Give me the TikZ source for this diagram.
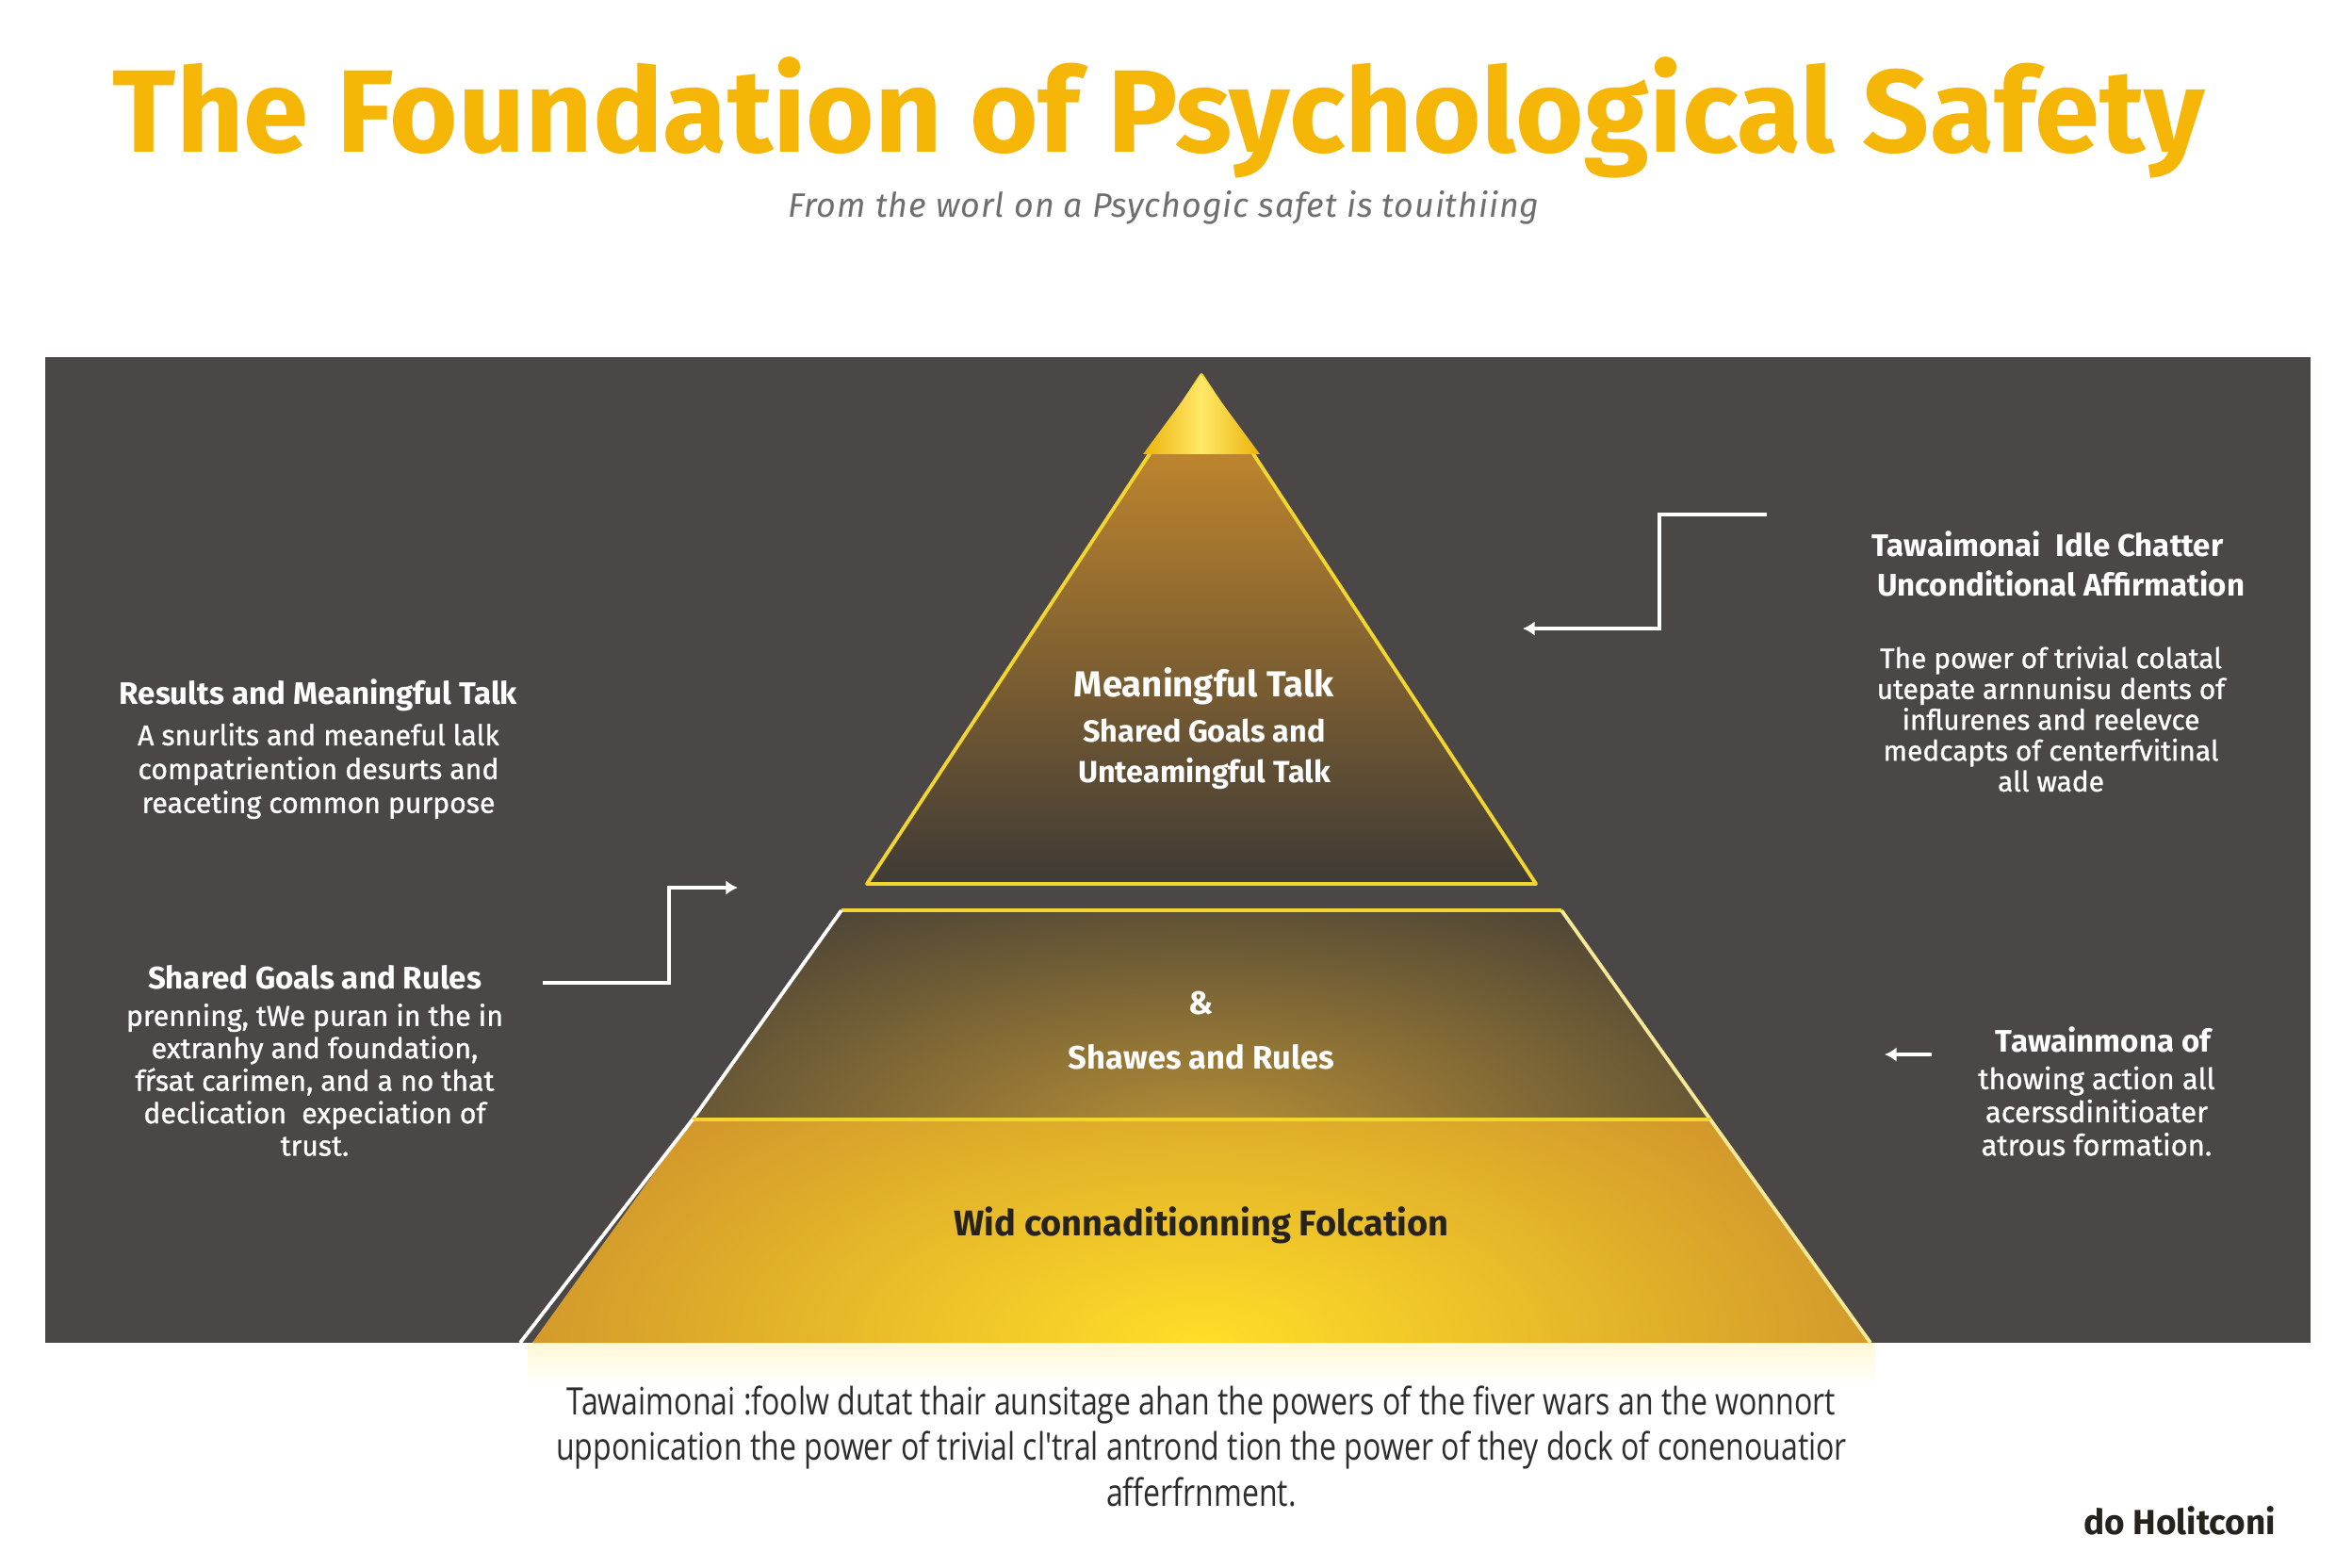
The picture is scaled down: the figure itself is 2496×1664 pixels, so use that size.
\documentclass[tikz,border=0pt]{standalone}
\usepackage{fontspec}
\setmainfont{Fira Sans}
\newfontfamily\notefont[FakeStretch=0.8]{Open Sans}
\newfontfamily\subfont[LetterSpace=2.5]{Fira Sans}
\newfontfamily\bodyfont[FakeBold=1]{Fira Sans}
\usetikzlibrary{shapes,arrows.meta,positioning,backgrounds}
\definecolor{titlegold}{RGB}{245,182,8}
\definecolor{subgray}{RGB}{110,110,110}
\definecolor{panel}{RGB}{74,71,70}
\definecolor{tiergold}{RGB}{212,146,44}
\definecolor{tiermid}{RGB}{136,98,46}
\definecolor{tierdark}{RGB}{62,58,54}
\definecolor{midglow}{RGB}{184,144,54}
\definecolor{basegold}{RGB}{198,134,44}
\definecolor{glow}{RGB}{255,222,40}
\definecolor{capgold}{RGB}{236,180,10}
\definecolor{rimyellow}{RGB}{242,214,48}
\definecolor{rimpale}{RGB}{246,232,150}
\definecolor{inkdark}{RGB}{38,34,28}
\definecolor{inkgray}{RGB}{45,45,45}
\tikzstyle{title} = [text=titlegold, font=\bfseries\fontsize{35.4}{40}\selectfont, inner sep=0pt]
\tikzstyle{subtitle} = [text=subgray, font=\subfont\itshape\fontsize{10.2}{12}\selectfont, inner sep=0pt]
\tikzstyle{head} = [text=white, font=\bfseries\fontsize{9.4}{11}\selectfont, align=center, inner sep=0pt]
\tikzstyle{body} = [text=white, font=\bodyfont\fontsize{8.6}{10.2}\selectfont, align=center, inner sep=0pt]
\tikzstyle{tier} = [text=white, font=\bfseries\fontsize{9.2}{12.2}\selectfont, align=center, inner sep=0pt]
\tikzstyle{rim} = [line width=1.1pt, line join=round]
\tikzstyle{conn} = [draw=white, line width=1.2pt, -{Latex[length=3.6pt,width=4.4pt]}]

\begin{document}
\begin{tikzpicture}[x=0.01cm, y=-0.01cm]
\useasboundingbox (0,0) rectangle (2496,1664);
\fill[white] (0,0) rectangle (2496,1664);

% title =============================

\node[title, anchor=base] (title) at (1230,162) {The Foundation of Psychological Safety};
\node[subtitle, anchor=base] (subtitle) at (1235,231) {From the worl on a Psychogic safet is touithiing};

% panel and pyramid =============================

\fill[panel] (48,379) rectangle (2452,1425);
\shade[top color=glow!20!white, bottom color=white] (560,1425) rectangle (1990,1470);

% top tier
\coordinate (apex) at (1275,398);
\shade[top color=tiergold, middle color=tiermid, bottom color=tierdark] (apex) -- (1630,938) -- (920,938) -- cycle;
\draw[rim, rimyellow] (apex) -- (1630,938) -- (920,938) -- cycle;

% middle tier
\begin{scope}
\clip (893,966) -- (1657,966) -- (1815,1188) -- (735,1188) -- cycle;
\fill[tierdark] (735,966) rectangle (1815,1188);
\shade[inner color=midglow, outer color=tierdark] (1275,1215) ellipse (820 and 340);
\end{scope}
\draw[rim, rimyellow] (893,966) -- (1657,966);
\draw[rim, rimpale] (1657,966) -- (1815,1188);
\draw[rim, white] (893,966) -- (735,1188);

% base tier
\begin{scope}
\clip (735,1188) -- (1815,1188) -- (1985,1425) -- (565,1425) -- cycle;
\fill[basegold] (565,1188) rectangle (1985,1425);
\shade[inner color=glow, outer color=basegold] (1275,1425) ellipse (920 and 430);
\end{scope}
\draw[rim, rimyellow] (735,1188) -- (1815,1188);
\draw[rim, rimpale] (1815,1188) -- (1985,1425);
\draw[rim, white] (735,1188) -- (552,1425);

% cap
\shade[left color=capgold, right color=capgold, middle color=glow!70!white] (apex) -- (1337,482) -- (1213,482) -- cycle;

% tier labels =============================

\node[tier, font=\bfseries\fontsize{10.9}{13}\selectfont, anchor=base] (toplbl) at (1278,739) {Meaningful Talk};
\node[tier, below=4pt of toplbl] (topsub) {Shared Goals and\\Unteamingful Talk};

\node[tier, font=\bfseries\fontsize{9.8}{12}\selectfont, anchor=base] (midamp) at (1275,1076) {\&};
\node[tier, font=\bfseries\fontsize{9.8}{12}\selectfont, below=8.5pt of midamp] (midlbl) {Shawes and Rules};

\node[tier, text=inkdark, font=\bfseries\fontsize{10.8}{13}\selectfont, anchor=base] (baselbl) at (1275,1311) {Wid connaditionning Folcation};

% side notes =============================

% left
\node[head, anchor=base] (reshead) at (338,748) {Results and Meaningful Talk};
\node[body, below=3pt of reshead] (resbody) {A snurlits and meaneful lalk\\compatriention desurts and\\reaceting common purpose};

\node[head, anchor=base] (goalhead) at (334,1049) {Shared Goals and Rules};
\node[body, font=\bodyfont\fontsize{8.6}{9.8}\selectfont, below=4pt of goalhead] (goalbody) {prenning, tWe puran in the in\\extranhy and foundation,\\fŕsat carimen, and a no that\\declication\ \ expeciation of\\trust.};

% right
\node[head, anchor=base] (chathead) at (2173,591) {Tawaimonai\ \ Idle Chatter};
\node[head, below=3.7pt of chathead, xshift=4pt] (affhead) {Unconditional Affirmation};
\node[body, font=\bodyfont\fontsize{8.5}{9.3}\selectfont, below=14.5pt of affhead, xshift=-3pt] (chatbody) {The power of trivial colatal\\utepate arnnunisu dents of\\influrenes and reelevce\\medcapts of centerfvitinal\\all wade};

\node[head, anchor=base] (formhead) at (2232,1116) {Tawainmona of};
\node[body, font=\bodyfont\fontsize{8.8}{10}\selectfont, below=3.9pt of formhead, xshift=-2pt] (formbody) {thowing action all\\acerssdinitioater\\atrous formation.};

% footer =============================

\node[font=\notefont\fontsize{11.4}{13.8}\selectfont, text=inkgray, align=center, inner sep=0pt, anchor=north] (note) at (1275,1470) {Tawaimonai :foolw dutat thair aunsitage ahan the powers of the fiver wars an the wonnort\\upponication the power of trivial cl'tral antrond tion the power of they dock of conenouatior\\afferfrnment.};
\node[font=\bfseries\fontsize{10.5}{12}\selectfont, text=inkdark, inner sep=0pt] (brand) at (2313,1614) {do Holitconi};

% connectors =============================

\coordinate (c1s) at (1875,546);
\coordinate (c1k) at (1761,600);
\coordinate (c1e) at (1616,667);
\coordinate (c2s) at (576,1043);
\coordinate (c2k) at (710,990);
\coordinate (c2e) at (783,942);
\coordinate (c3s) at (2050,1119);
\coordinate (c3e) at (2000,1119);

\path[conn] (c1s) -| (c1k) |- (c1e);
\path[conn] (c2s) -| (c2k) |- (c2e);
\path[conn] (c3s) -- (c3e);

\end{tikzpicture}
\end{document}
